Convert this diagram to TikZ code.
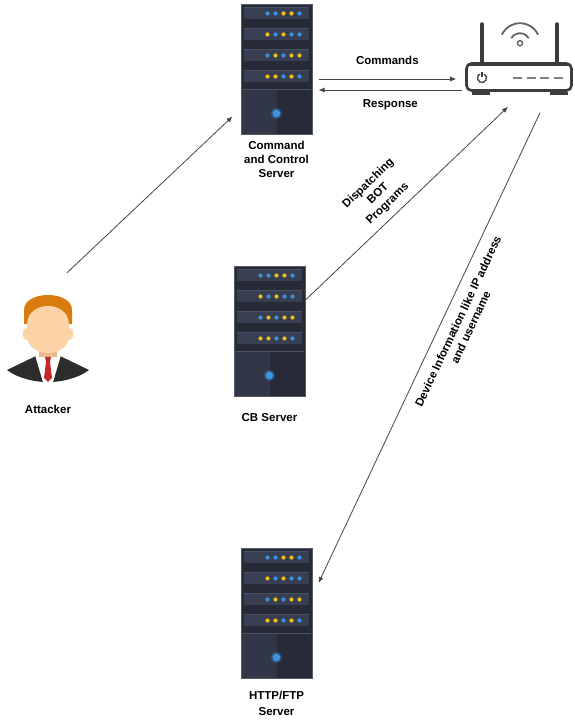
\documentclass[tikz,border=0pt]{standalone}
\usepackage{fontspec}
\setmainfont{Liberation Sans}
\usetikzlibrary{arrows.meta,positioning,calc}

\definecolor{rackbody}{RGB}{39,43,56}
\definecolor{rackedge}{RGB}{84,90,106}
\definecolor{rackunit}{RGB}{56,63,82}
\definecolor{rackhi}{RGB}{72,80,100}
\definecolor{ledb}{RGB}{61,149,224}
\definecolor{ledy}{RGB}{242,194,27}
\definecolor{routergray}{RGB}{60,60,60}
\definecolor{wire}{RGB}{70,70,70}
\definecolor{hair}{RGB}{217,123,15}
\definecolor{skin}{RGB}{251,211,166}
\definecolor{skindark}{RGB}{236,185,140}
\definecolor{suit}{RGB}{45,45,45}
\definecolor{tie}{RGB}{198,40,40}

% slots, leds and power light inside a server node
\newcommand{\rackunits}[1]{%
  \foreach \u/\pat in {0/{ledb,ledb,ledy,ledy,ledb},1/{ledy,ledb,ledy,ledb,ledb},
                       2/{ledb,ledy,ledb,ledy,ledy},3/{ledy,ledy,ledb,ledy,ledb}}{%
    \fill[rackunit] ($(#1.north west)+(3,-3-21*\u)$) rectangle ++(65,-12);
    \draw[rackhi] ($(#1.north west)+(3,-3-21*\u)$) -- ++(65,0);
    \foreach \c [count=\i] in \pat
      \fill[fill=\c] ($(#1.north west)+(19+8*\i,-9-21*\u)$) circle (2.1);
  }
  \fill[rackunit!60!rackbody] ($(#1.north west)+(1.5,-86)$) rectangle ($(#1.south)+(0,1.5)$);
  \draw[rackhi] ($(#1.north west)+(1.5,-85)$) -- ($(#1.north east)+(-1.5,-85)$);
  \fill[ledb,opacity=.35] ($(#1.south)+(0,22)$) circle (5.5);
  \fill[ledb] ($(#1.south)+(0,22)$) circle (3.8);
}

\begin{document}
\begin{tikzpicture}[x=1pt,y=1pt,
  rack/.style={draw=rackedge, fill=rackbody, line width=1pt,
    minimum width=71pt, minimum height=130pt, inner sep=0pt},
  router/.style={draw=routergray, line width=2.6pt, rounded corners=5pt, fill=white,
    minimum width=105pt, minimum height=27pt, inner sep=0pt},
  lbl/.style={font=\bfseries\fontsize{11.5}{14}\selectfont, align=center, inner sep=2pt},
  arrow/.style={-{Latex[length=6pt,width=5pt]}, draw=wire, line width=0.8pt}
]
\useasboundingbox (0,0) rectangle (575,724);

% servers
\node[rack] (cc) at (276.5,654) {};
\node[rack] (cb) at (269.5,392) {};
\node[rack] (http) at (276.5,110) {};
\rackunits{cc}
\rackunits{cb}
\rackunits{http}

% router
\node[router] (rt) at (519,647) {};
\draw[routergray, line width=4pt, line cap=round] ([xshift=-37pt]rt.north) -- ++(0,38);
\draw[routergray, line width=4pt, line cap=round] ([xshift=38pt]rt.north) -- ++(0,38);
\draw[routergray, line width=2pt] ([xshift=3pt,yshift=-3pt]rt.north west) -- ([xshift=-3pt,yshift=-3pt]rt.north east);
\draw[routergray, line width=1.3pt] ($(rt.center)+(-37,-1)$) ++(60:4.5) arc[start angle=60, end angle=-240, radius=4.5];
\draw[routergray, line width=1.3pt] ($(rt.center)+(-37,0)$) -- ++(0,5);
\draw[gray, line width=1.5pt, dash pattern=on 9pt off 4.5pt] ($(rt.center)+(-6,-1)$) -- ++(50,0);
\fill[routergray] ($(rt.south west)+(7,0)$) rectangle ++(18,-3);
\fill[routergray] ($(rt.south east)+(-23,0)$) rectangle ++(18,-3);
\draw[routergray!80, line width=1.4pt] ($(rt.north)+(1,19)$) circle (2.6);
\draw[routergray!80, line width=1.8pt] ($(rt.north)+(1,19)$) ++(30:10) arc[start angle=30, end angle=150, radius=10];
\draw[routergray!80, line width=1.8pt] ($(rt.north)+(1,19)$) ++(25:20) arc[start angle=25, end angle=155, radius=20];

% attacker
\node[minimum width=82pt, minimum height=90pt] (att) at (48,386) {};
\begin{scope}[shift={(att.center)}]
  \fill[suit] (-41,-32) -- (-12,-18) -- (-5,-44) .. controls (-18,-43) and (-32,-39) .. cycle;
  \fill[suit] (41,-32) -- (12,-18) -- (5,-44) .. controls (18,-43) and (32,-39) .. cycle;
  \fill[white] (-13,-17) -- (13,-17) -- (5,-44) -- (-5,-44) -- cycle;
  \fill[skindark] (-9,-8) rectangle (9,-19);
  \fill[tie] (-3,-19) -- (3,-19) -- (2,-24) -- (-2,-24) -- cycle;
  \fill[tie] (-2,-24) -- (2,-24) -- (4,-40) -- (0,-44) -- (-4,-40) -- cycle;
  \fill[hair] (-24,14) -- (-24,28) .. controls (-24,48) and (24,48) .. (24,28) -- (24,14) -- cycle;
  \fill[skin] (-22,4) ellipse (3 and 6);
  \fill[skin] (22,4) ellipse (3 and 6);
  \fill[skin] (-21,14) .. controls (-20,38) and (20,38) .. (21,14) -- (21,2)
    .. controls (21,-10) and (9,-15) .. (0,-15) .. controls (-9,-15) and (-21,-10) .. (-21,2) -- cycle;
\end{scope}

% captions
\node[lbl, below=3pt of cc] (cclbl) {Command\\and Control\\Server};
\node[lbl, below=14pt of cb] (cblbl) {CB Server};
\node[lbl, below=9pt of http] (httplbl) {HTTP/FTP\\[2pt]Server};
\node[lbl, below=20pt of att] (attlbl) {Attacker};

% links
\draw[arrow] ($(att.north)+(19,20)$) -- ($(cc.south west)+(-8,19)$);
\draw[arrow] ([xshift=6pt,yshift=-9pt]cc.east) -- node[lbl, above=12pt] (cmdlbl) {Commands} ([xshift=-9pt,yshift=-2pt]rt.west);
\draw[arrow] ([xshift=-3pt,yshift=-13pt]rt.west) -- node[lbl, below=7pt] (rsplbl) {Response} ([xshift=6pt,yshift=-20pt]cc.east);
\draw[arrow] ([yshift=32pt]cb.east) -- node[lbl, sloped, above=5pt, pos=0.45] (botlbl) {Dispatching\\BOT\\Programs} ($(rt.south)+(-11,-15)$);
\draw[arrow] ($(rt.south)+(21,-21)$) -- node[lbl, sloped, below=8pt, pos=0.43] (devlbl) {Device Information like IP address\\and username} ([xshift=6pt,yshift=31pt]http.east);
\end{tikzpicture}
\end{document}
